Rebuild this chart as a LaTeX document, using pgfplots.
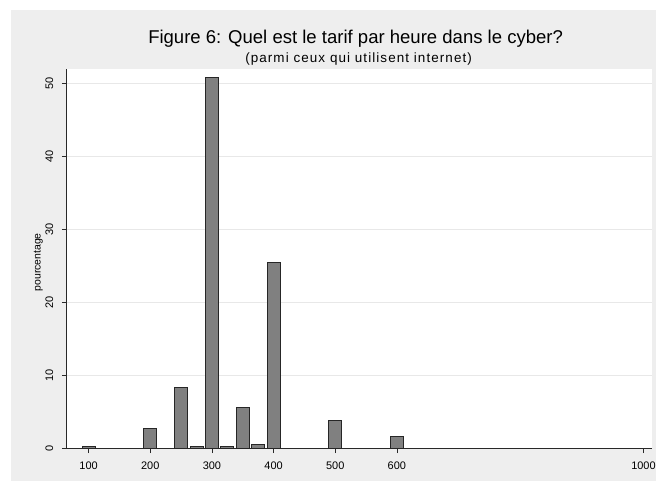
\documentclass[border=0pt]{standalone}
\usepackage{fontspec}
\setmainfont{Liberation Sans}
\newfontfamily\subfont[LetterSpace=8]{Liberation Sans}
\usepackage{pgfplots}
\pgfplotsset{compat=1.18}
\definecolor{bgc}{RGB}{238,238,238}
\definecolor{gridc}{RGB}{232,232,232}
\definecolor{barc}{RGB}{128,128,128}
\definecolor{axc}{RGB}{40,40,40}
\begin{document}
\begin{tikzpicture}[x=1pt,y=1pt]
\fill[white] (0,0) rectangle (659,483);
\fill[bgc] (11,0) rectangle (659,473);
\node[anchor=base,font=\fontsize{18.6}{20}\selectfont] at (357,439) {Figure 6: Quel est le tarif par heure dans le cyber?};
\node[anchor=base,font=\subfont\fontsize{13.5}{15}\selectfont] at (360,420) {(parmi ceux qui utilisent internet)};
\begin{axis}[
  at={(67pt,33pt)}, anchor=south west,
  scale only axis, width=588pt, height=381pt,
  xmin=64.5, xmax=1014.5, ymin=0, ymax=52,
  axis lines*=left,
  axis line style={axc, line width=0.8pt},
  axis background/.style={fill=white},
  xtick={100,200,300,400,500,600,1000},
  ytick={0,10,20,30,40,50},
  tick align=outside,
  major tick length=5pt,
  tick style={axc, line width=0.6pt},
  ymajorgrids, grid style={gridc, line width=1pt},
  ticklabel style={font=\fontsize{11}{12}\selectfont},
  /pgf/number format/assume math mode=true,
  /pgf/number format/1000 sep={},
  xticklabel style={yshift=-5pt},
  yticklabel style={rotate=90, anchor=south, yshift=5pt},
  ylabel={pourcentage},
  ylabel style={font=\fontsize{10.5}{12}\selectfont, at={(axis description cs:-0.0485,0.49)}, anchor=center},
  clip=false,
]
\addplot[ybar, bar width=21, bar shift=0pt, fill=barc, draw=black!85, line width=0.8pt] coordinates {
(100,0.2) (200,2.7) (250,8.3) (275,0.2) (300,50.8) (325,0.2) (350,5.6) (375,0.5) (400,25.4) (500,3.8) (600,1.6)
};
\end{axis}
\end{tikzpicture}
\end{document}
